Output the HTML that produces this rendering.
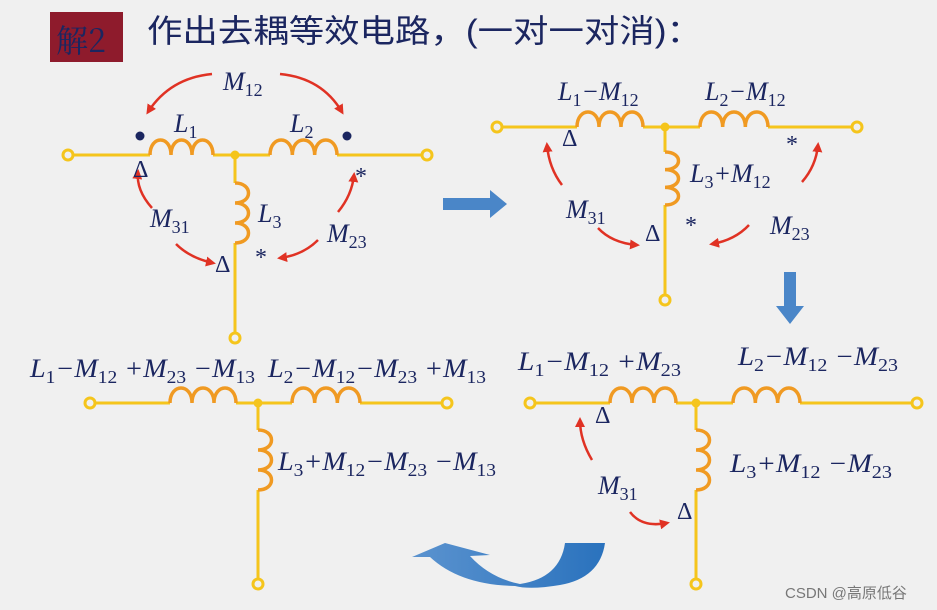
<!DOCTYPE html>
<html><head><meta charset="utf-8"><style>
html,body{margin:0;padding:0;background:#f0f0f0;}
svg{display:block;}
.t{font-family:"Liberation Serif",serif;font-style:italic;fill:#1b2660;font-size:26px;}
.s{font-size:18px;font-style:normal;}
.sym{font-family:"Liberation Serif",serif;fill:#1b2660;font-size:24px;}
</style></head><body>
<svg id="sv" width="937" height="610" viewBox="0 0 937 610" xmlns="http://www.w3.org/2000/svg">
<defs>
<marker id="ar" markerWidth="10" markerHeight="10" refX="7" refY="5" orient="auto" markerUnits="userSpaceOnUse"><path d="M0,0 L10,5 L0,10 Z" fill="#e03224"/></marker>
<linearGradient id="bg" x1="0" x2="1"><stop offset="0" stop-color="#5b93cf"/><stop offset="1" stop-color="#2a72bd"/></linearGradient>
</defs>
<rect x="50" y="12" width="73" height="50" fill="#8e1b2c"/>
<text x="56" y="52" font-family="'Noto Serif CJK SC','Liberation Serif',serif" font-size="32" fill="#1b2660">解2</text>
<text x="147" y="42" font-family="'Liberation Sans','Noto Sans CJK SC',sans-serif" font-size="32" fill="#1b2660" textLength="555" lengthAdjust="spacingAndGlyphs">作出去耦等效电路，(一对一对消)：</text>
<g id="wires" stroke="#f5c51c" stroke-width="3" fill="none"></g>
<g id="coils" stroke="#f09a22" stroke-width="3.5" fill="none"></g>
<g id="term" stroke="#f5c51c" stroke-width="3" fill="#f0f0f0"></g>
<g stroke="#e03224" stroke-width="2.5" fill="none" marker-end="url(#ar)">
<path d="M212,74 Q170,78 148,112"/><path d="M280,74 Q322,78 342,112"/>
<path d="M152,208 Q136,190 138,172"/><path d="M176,244 Q190,258 213,263"/>
<path d="M338,212 Q352,195 354,175"/><path d="M318,240 Q303,255 280,258"/>
<path d="M562,185 Q549,168 547,145"/><path d="M598,228 Q612,243 637,245"/>
<path d="M802,182 Q816,166 818,145"/><path d="M749,225 Q735,240 712,244"/>
<path d="M592,460 Q580,440 580,420"/><path d="M630,512 Q642,528 667,523"/>
</g>
<g fill="#1b2660"><circle cx="140" cy="136" r="4.5"/><circle cx="347" cy="136" r="4.5"/></g>
<text class="t" x="223" y="90">M<tspan class="s" dy="6">12</tspan></text>
<text class="t" x="174" y="132">L<tspan class="s" dy="6">1</tspan></text>
<text class="t" x="290" y="132">L<tspan class="s" dy="6">2</tspan></text>
<text class="t" x="258" y="222">L<tspan class="s" dy="6">3</tspan></text>
<text class="t" x="150" y="227">M<tspan class="s" dy="6">31</tspan></text>
<text class="t" x="327" y="242">M<tspan class="s" dy="6">23</tspan></text>
<text class="sym" x="133" y="177">Δ</text><text class="sym" x="355" y="184">*</text>
<text class="sym" x="215" y="272">Δ</text><text class="sym" x="255" y="265">*</text>
<path d="M443,198 H490 V190 L507,204 L490,218 V210 H443 Z" fill="#4a86c8"/>
<path d="M784,272 H796 V306 H804 L790,324 L776,306 H784 Z" fill="#4a86c8"/>
<text class="t" x="558" y="100">L<tspan class="s" dy="6">1</tspan><tspan dy="-6">−M</tspan><tspan class="s" dy="6">12</tspan></text>
<text class="t" x="705" y="100">L<tspan class="s" dy="6">2</tspan><tspan dy="-6">−M</tspan><tspan class="s" dy="6">12</tspan></text>
<text class="t" x="690" y="182">L<tspan class="s" dy="6">3</tspan><tspan dy="-6">+M</tspan><tspan class="s" dy="6">12</tspan></text>
<text class="t" x="566" y="218">M<tspan class="s" dy="6">31</tspan></text>
<text class="t" x="770" y="234">M<tspan class="s" dy="6">23</tspan></text>
<text class="sym" x="562" y="146">Δ</text><text class="sym" x="786" y="152">*</text>
<text class="sym" x="645" y="241">Δ</text><text class="sym" x="685" y="233">*</text>
<text class="t" x="30" y="377" textLength="225" lengthAdjust="spacingAndGlyphs">L<tspan class="s" dy="6">1</tspan><tspan dy="-6">−M</tspan><tspan class="s" dy="6">12</tspan><tspan dy="-6"> +M</tspan><tspan class="s" dy="6">23</tspan><tspan dy="-6"> −M</tspan><tspan class="s" dy="6">13</tspan></text>
<text class="t" x="268" y="377" textLength="218" lengthAdjust="spacingAndGlyphs">L<tspan class="s" dy="6">2</tspan><tspan dy="-6">−M</tspan><tspan class="s" dy="6">12</tspan><tspan dy="-6">−M</tspan><tspan class="s" dy="6">23</tspan><tspan dy="-6"> +M</tspan><tspan class="s" dy="6">13</tspan></text>
<text class="t" x="278" y="470" textLength="218" lengthAdjust="spacingAndGlyphs">L<tspan class="s" dy="6">3</tspan><tspan dy="-6">+M</tspan><tspan class="s" dy="6">12</tspan><tspan dy="-6">−M</tspan><tspan class="s" dy="6">23</tspan><tspan dy="-6"> −M</tspan><tspan class="s" dy="6">13</tspan></text>
<text class="t" x="518" y="370" textLength="163" lengthAdjust="spacingAndGlyphs">L<tspan class="s" dy="6">1</tspan><tspan dy="-6">−M</tspan><tspan class="s" dy="6">12</tspan><tspan dy="-6"> +M</tspan><tspan class="s" dy="6">23</tspan></text>
<text class="t" x="738" y="365" textLength="160" lengthAdjust="spacingAndGlyphs">L<tspan class="s" dy="6">2</tspan><tspan dy="-6">−M</tspan><tspan class="s" dy="6">12</tspan><tspan dy="-6"> −M</tspan><tspan class="s" dy="6">23</tspan></text>
<text class="t" x="730" y="472" textLength="162" lengthAdjust="spacingAndGlyphs">L<tspan class="s" dy="6">3</tspan><tspan dy="-6">+M</tspan><tspan class="s" dy="6">12</tspan><tspan dy="-6"> −M</tspan><tspan class="s" dy="6">23</tspan></text>
<text class="t" x="598" y="494">M<tspan class="s" dy="6">31</tspan></text>
<text class="sym" x="595" y="423">Δ</text><text class="sym" x="677" y="519">Δ</text>
<path d="M412,557 L445,543 L490,555 L470,556 Q490,578 520,584 Q560,578 565,543 L605,543 Q600,578 560,585 Q530,590 515,586 Q460,585 430,557 Z" fill="url(#bg)"/>
<text x="785" y="598" font-family="'Liberation Sans','Noto Sans CJK SC',sans-serif" font-size="15" fill="#777">CSDN @高原低谷</text>
</svg>
<script>
var NS="http://www.w3.org/2000/svg";
function add(g,tag,at){var e=document.createElementNS(NS,tag);for(var k in at)e.setAttribute(k,at[k]);document.getElementById(g).appendChild(e);}
function hc(x1,x2,y,n){var w=(x2-x1)/n,d="M"+x1+","+y;for(var i=0;i<n;i++){d+=" c0,-20 "+w+",-20 "+w+",0";}add("coils","path",{d:d});}
function vc(x,y1,y2,n){var h=(y2-y1)/n,d="M"+x+","+y1;for(var i=0;i<n;i++){d+=" c18,0 18,"+h+" 0,"+h;}add("coils","path",{d:d});}
function ln(x1,y1,x2,y2){add("wires","line",{x1:x1,y1:y1,x2:x2,y2:y2});}
function tm(x,y){add("term","circle",{cx:x,cy:y,r:5});}
function jn(x,y){add("term","circle",{cx:x,cy:y,r:3,fill:"#f5c51c"});}
function T(L,R,y,a1,a2,b1,b2,J,vb1,vb2,vend){ln(L,y,a1,y);ln(a2,y,b1,y);ln(b2,y,R,y);ln(J,y,J,vb1);ln(J,vb2,J,vend);hc(a1,a2,y,3);hc(b1,b2,y,3);vc(J,vb1,vb2,3);tm(L,y);tm(R,y);tm(J,vend);jn(J,y);}
T(68,427,155,150,213,270,337,235,183,243,338);
T(497,857,127,577,643,700,768,665,152,205,300);
T(90,447,403,170,236,292,360,258,430,490,584);
T(530,917,403,610,676,733,800,696,430,490,584);
</script>
</body></html>
